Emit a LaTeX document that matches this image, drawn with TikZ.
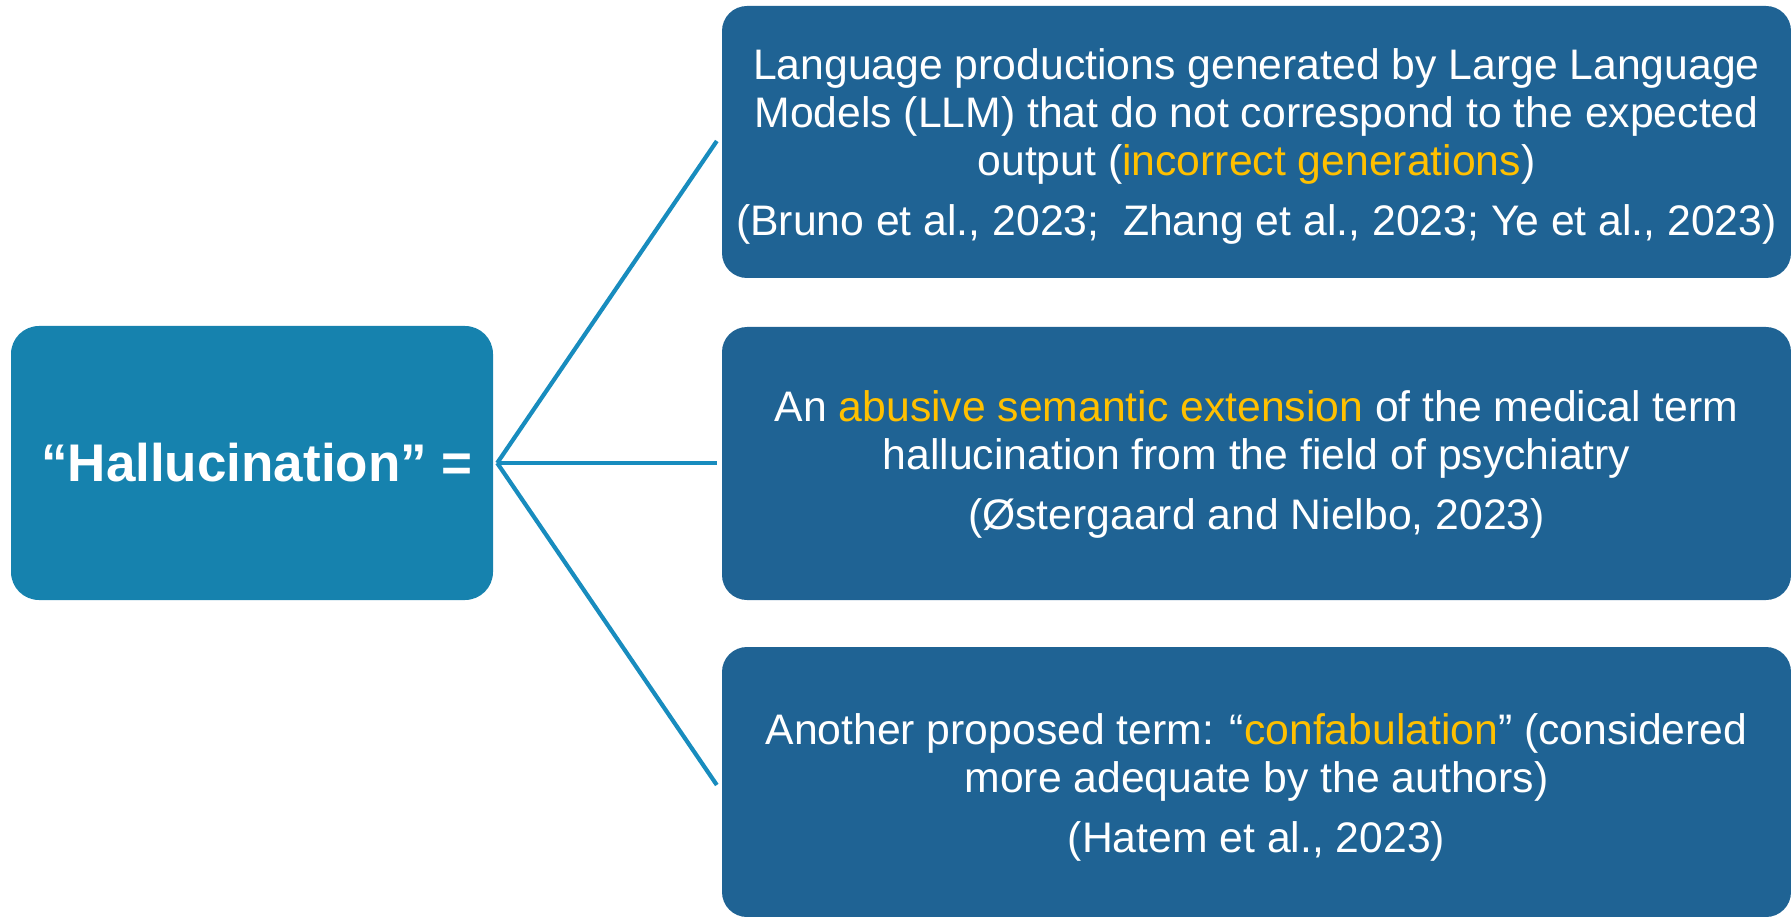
\documentclass[tikz,border=0pt]{standalone}
\usepackage{fontspec}
\setmainfont{Liberation Sans}
\definecolor{hubblue}{RGB}{22,130,174}
\definecolor{boxblue}{RGB}{31,99,148}
\definecolor{linkblue}{RGB}{24,140,190}
\definecolor{hl}{RGB}{255,192,0}
\begin{document}
\begin{tikzpicture}[x=1pt,y=-1pt,
  defbox/.style={fill=boxblue, rounded corners=25pt, minimum width=1069pt,
    inner sep=0pt},
  deftext/.style={inner sep=0pt, text=white, align=center,
    font=\fontsize{42.7}{48}\selectfont},
  hubbox/.style={fill=hubblue, rounded corners=28pt, minimum width=482pt,
    minimum height=274pt, inner sep=0pt, text=white,
    font=\bfseries\fontsize{53}{60}\selectfont},
  link/.style={draw=linkblue, line width=4.2pt}]
\useasboundingbox (0,0) rectangle (1791,917);
\node[hubbox] (hub) at (252,463) {\hspace*{10pt}“Hallucination” =};
\node[defbox, minimum height=272pt] (d1) at (1256.5,142) {};
\node[defbox, minimum height=273pt] (d2) at (1256.5,463.5) {};
\node[defbox, minimum height=270pt] (d3) at (1256.5,782) {};
\node[deftext] (t1) at ([yshift=-4pt]d1.center)
  {Language productions generated by Large Language\\
   Models (LLM) that do not correspond to the expected\\
   output (\textcolor{hl}{incorrect generations})\\[12pt]
   (Bruno et al., 2023;~ Zhang et al., 2023; Ye et al., 2023)};
\node[deftext] (t2) at ([yshift=-1pt]d2.center)
  {An \textcolor{hl}{abusive semantic extension} of the medical term\\
   hallucination from the field of psychiatry\\[12pt]
   (Østergaard and Nielbo, 2023)};
\node[deftext] (t3) at ([yshift=-5pt]d3.center)
  {Another proposed term: “\textcolor{hl}{confabulation}” (considered\\
   more adequate by the authors)\\[12pt]
   (Hatem et al., 2023)};
\coordinate (h) at ([xshift=4pt]hub.east);
\coordinate (e1) at ([xshift=-5pt]d1.west |- 0,141);
\coordinate (e2) at ([xshift=-5pt]d2.west |- h);
\coordinate (e3) at ([xshift=-5pt]d3.west |- 0,785);
\draw[link] (h) -- (e1);
\draw[link] (h) -- (e2);
\draw[link] (h) -- (e3);
\end{tikzpicture}
\end{document}
